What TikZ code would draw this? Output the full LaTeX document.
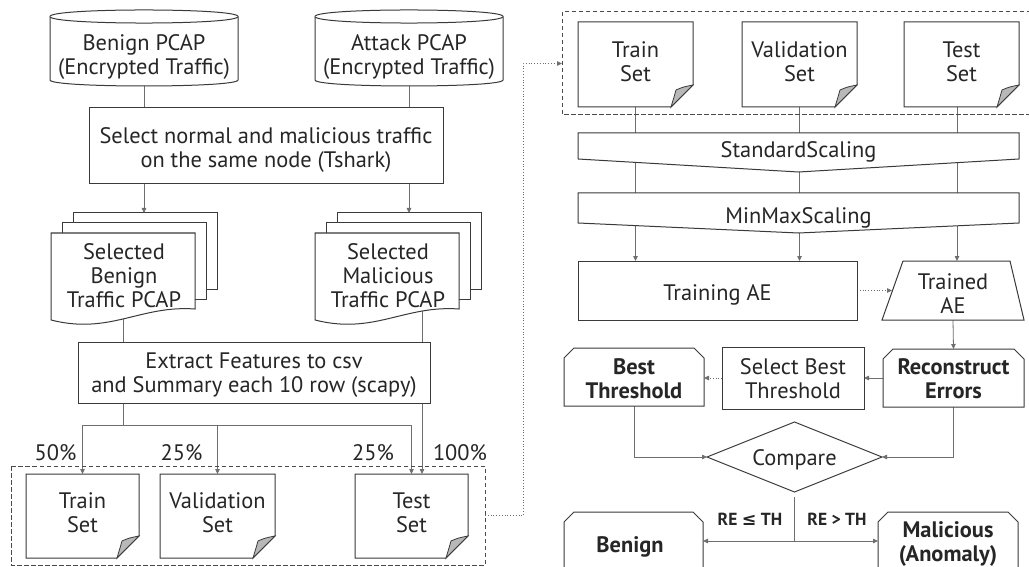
\documentclass[tikz,border=0pt]{standalone}
\usepackage{fontspec}
\setmainfont{PT Sans}
\newfontfamily\symfont{DejaVu Sans}
\usetikzlibrary{arrows.meta,calc,shapes.geometric}
\definecolor{outl}{HTML}{3A3A3A}
\definecolor{conc}{HTML}{6E6E6E}
\definecolor{txt}{HTML}{262626}
\definecolor{foldc}{HTML}{B8B8B8}
\definecolor{dashc}{HTML}{4A4A4A}
\newcommand\mycyl[1]{%
  \begin{scope}[xshift=#1]
    \draw[outline] (50,16.5) -- (50,80) .. controls (50,88) and (238,88) .. (238,80) -- (238,16.5) .. controls (238,7.8) and (50,7.8) .. (50,16.5) -- cycle;
    \draw[outline] (50,16.5) .. controls (50,25.2) and (238,25.2) .. (238,16.5);
  \end{scope}}
\newcommand\mystack[1]{%
  \begin{scope}[xshift=#1]
    \draw[outline] (73,213) rectangle (217,289);
    \draw[outline] (62,223) rectangle (206,299);
    \draw[outline] (51,233) -- (195,233) -- (195,309) .. controls (140,305) and (110,335) .. (51,320) -- cycle;
  \end{scope}}
\newcommand\mydoc[4]{%
  \draw[outline] (#1,#2) -- (#3,#2) -- (#3,#4-22) -- (#3-22,#4) -- (#1,#4) -- cycle;
  \draw[outline, line width=0.8pt, fill=foldc] (#3-22,#4) .. controls (#3-19,#4-10) .. (#3-17,#4-17) .. controls (#3-10,#4-20) .. (#3,#4-22) -- cycle;}
\newcommand\mycham[1]{%
  \draw[outline] (#1.south west) -- ($(#1.north west)+(0,10)$) -- ($(#1.north west)+(10,0)$) -- ($(#1.north east)+(-10,0)$) -- ($(#1.north east)+(0,10)$) -- (#1.south east) -- cycle;}
\begin{document}
\begin{tikzpicture}[x=1pt,y=-1pt,
  geo/.style={inner sep=0pt, outer sep=0pt, draw=none},
  outline/.style={draw=outl, line width=1.0pt, fill=white, line join=miter},
  conn/.style={draw=conc, line width=0.8pt},
  arr/.style={conn, -{Triangle[length=5pt,width=4.5pt]}},
  dotarr/.style={conn, dotted, -{Triangle[length=5pt,width=4.5pt]}},
  dashbox/.style={draw=dashc, line width=1.0pt, dash pattern=on 4.5pt off 2.5pt},
  txtn/.style={inner sep=0pt, align=center, text=txt, font=\fontsize{22.4}{24}\selectfont},
  btxt/.style={inner sep=0pt, align=center, text=txt, font=\fontsize{22.4}{24}\selectfont\bfseries},
  pct/.style={inner sep=0pt, text=txt, anchor=base, font=\fontsize{22.4}{24}\selectfont},
  bpct/.style={inner sep=0pt, text=txt, anchor=base, font=\fontsize{22.4}{24}\selectfont\bfseries},
  cond/.style={inner sep=0pt, text=txt, anchor=base, font=\fontsize{17.5}{20}\selectfont\bfseries},
]
\useasboundingbox (0,0) rectangle (1029,567);
\clip (0,0) rectangle (1029,567);
\fill[white] (0,0) rectangle (1029,567);

% ---------- geometry nodes ----------
\node[geo, minimum width=188, minimum height=76] (benign) at (144,48) {};
\node[geo, minimum width=188, minimum height=76] (attack) at (409,48) {};
\node[geo, minimum width=354, minimum height=76] (select) at (266,146) {};
\node[geo, minimum width=144, minimum height=76] (selBk) at (145,251) {};
\node[geo, minimum width=144, minimum height=86] (selB) at (123,276) {};
\node[geo, minimum width=144, minimum height=76] (selMk) at (409,251) {};
\node[geo, minimum width=144, minimum height=86] (selM) at (387,276) {};
\node[geo, minimum width=352, minimum height=61] (extract) at (254,372.5) {};
\node[geo, minimum width=113, minimum height=84] (trainL) at (82.5,516) {};
\node[geo, minimum width=115, minimum height=84] (valL) at (217.5,516) {};
\node[geo, minimum width=113, minimum height=84] (testL) at (411.5,516) {};
\node[geo, minimum width=474, minimum height=99] (dashL) at (248,515.5) {};
\node[geo, minimum width=478, minimum height=103] (dashR) at (801,63.5) {};
\node[geo, minimum width=115, minimum height=85] (trainR) at (635.5,64.5) {};
\node[geo, minimum width=115, minimum height=85] (valR) at (799.5,64.5) {};
\node[geo, minimum width=115, minimum height=85] (testR) at (961.5,64.5) {};
\node[geo, minimum width=441, minimum height=39] (std) at (798.5,152.5) {};
\node[geo, minimum width=441, minimum height=40] (mm) at (798.5,213) {};
\node[geo, minimum width=279, minimum height=59] (trainAE) at (717.5,290.5) {};
\node[geo, minimum width=142, minimum height=59] (trainedAE) at (953,290.5) {};
\node[geo, minimum width=140, minimum height=58] (bestT) at (634,377) {};
\node[geo, minimum width=142, minimum height=62] (selT) at (793,378) {};
\node[geo, minimum width=141, minimum height=58] (recon) at (953.5,378) {};
\node[geo, minimum width=175, minimum height=70] (cmp) at (794.5,457) {};
\node[geo, minimum width=139, minimum height=80] (benR) at (633.5,552) {};
\node[geo, minimum width=140, minimum height=80] (malR) at (948,552) {};
\coordinate (split) at (123,425);
\coordinate (mout) at (422,311);
\coordinate (fork) at (794.5,541);
\coordinate (tcol) at ($(testR.south)+(-4.5,0)$);

% ---------- connectors ----------
\draw[arr] (benign.south) -- (benign.south |- selBk.north);
\draw[arr] (attack.south) -- (attack.south |- selMk.north);
\draw[conn] (selB.south) -- (split);
\draw[arr] (split) -| (trainL.north);
\draw[arr] (split) -| (testL.north);
\draw[arr] (valL.north |- split) -- (valL.north);
\draw[arr] (mout) -- (mout |- testL.north);
\draw[dotarr] (dashL.east) -- ++(38,0) |- (dashR.west);
\draw[arr] (trainR.south) -- (trainR.south |- trainAE.north);
\draw[arr] (valR.south) -- (valR.south |- trainAE.north);
\draw[arr] (tcol) -- (tcol |- trainedAE.north);
\draw[dotarr] (trainAE.east) -- ($(trainedAE.west)+(10,0)$);
\draw[arr] (trainedAE.south) -- (recon.north);
\draw[arr] (recon.west) -- (selT.east);
\draw[dotarr] (selT.west) -- (selT.west -| bestT.east);
\draw[arr] (bestT.south) |- (cmp.west);
\draw[arr] (recon.south) |- (cmp.east);
\draw[conn] ($(cmp.south)+(0,5)$) -- (fork);
\draw[arr] (fork) -- (fork -| benR.east);
\draw[arr] (fork) -- (fork -| malR.west);

% ---------- shapes ----------
\draw[dashbox] (dashL.north west) rectangle (dashL.south east);
\draw[dashbox] (dashR.north west) rectangle (dashR.south east);
\mycyl{0pt}
\mycyl{265pt}
\draw[outline] (select.north west) rectangle (select.south east);
\mystack{0pt}
\mystack{264pt}
\draw[outline] (extract.north west) rectangle (extract.south east);
\mydoc{26}{474}{139}{558}
\mydoc{160}{474}{275}{558}
\mydoc{355}{474}{468}{558}
\mydoc{578}{22}{693}{107}
\mydoc{742}{22}{857}{107}
\mydoc{904}{22}{1019}{107}
\draw[outline] (std.north west) -- (std.north east) -- ($(std.south east)+(0,-13)$) -- (std.south) -- ($(std.south west)+(0,-13)$) -- cycle;
\draw[outline] (mm.north west) -- (mm.north east) -- ($(mm.south east)+(0,-10)$) -- (mm.south) -- ($(mm.south west)+(0,-10)$) -- cycle;
\draw[outline] (trainAE.north west) rectangle (trainAE.south east);
\draw[outline] ($(trainedAE.north west)+(21,0)$) -- ($(trainedAE.north east)+(-14,0)$) -- (trainedAE.south east) -- (trainedAE.south west) -- cycle;
\mycham{bestT}
\draw[outline] (selT.north west) rectangle (selT.south east);
\mycham{recon}
\draw[outline] (cmp.west) -- (cmp.north) -- (cmp.east) -- (cmp.south) -- cycle;
\mycham{benR}
\mycham{malR}

% ---------- texts ----------
\node[txtn] (t-benign) at (144,57) {Benign PCAP\\(Encrypted Traffic)};
\node[txtn] (t-attack) at (409,57) {Attack PCAP\\(Encrypted Traffic)};
\node[txtn] (t-select) at (266,150) {Select normal and malicious traffic\\on the same node (Tshark)};
\node[txtn] (t-selB) at (124,276) {Selected\\Benign\\Traffic PCAP};
\node[txtn] (t-selM) at (388,276) {Selected\\Malicious\\Traffic PCAP};
\node[txtn] (t-extract) at (254,375) {Extract Features to csv\\and Summary each 10 row (scapy)};
\node[pct] (p1) at (55.5,460) {50\%};
\node[pct] (p2) at (181.5,460) {25\%};
\node[pct] (p3) at (373,460) {25\%};
\node[pct] (p4) at (460,460) {100\%};
\node[txtn] (t-trainL) at (82.5,513) {Train\\Set};
\node[txtn] (t-valL) at (217.5,513) {Validation\\Set};
\node[txtn] (t-testL) at (411.5,513) {Test\\Set};
\node[txtn] (t-trainR) at (635.5,61.5) {Train\\Set};
\node[txtn] (t-valR) at (799.5,61.5) {Validation\\Set};
\node[txtn] (t-testR) at (961.5,61.5) {Test\\Set};
\node[pct] (t-std) at (798.5,158) {StandardScaling};
\node[pct] (t-mm) at (798.5,224) {MinMaxScaling};
\node[pct] (t-train) at (717.5,300) {Training AE};
\node[txtn] (t-trained) at (953,294) {Trained\\AE};
\node[btxt] (t-best) at (634,379) {Best\\Threshold};
\node[txtn] (t-selT) at (793,379) {Select Best\\Threshold};
\node[btxt] (t-recon) at (953.5,379) {Reconstruct\\Errors};
\node[pct] (t-cmp) at (794.5,465) {Compare};
\node[cond] (c1) at (750,525) {RE {\symfont\bfseries ≤} TH};
\node[cond] (c2) at (837,525) {RE > TH};
\node[bpct] (t-benR) at (630,552) {Benign};
\node[btxt] (t-mal) at (948,544) {Malicious\\(Anomaly)};
\end{tikzpicture}
\end{document}
